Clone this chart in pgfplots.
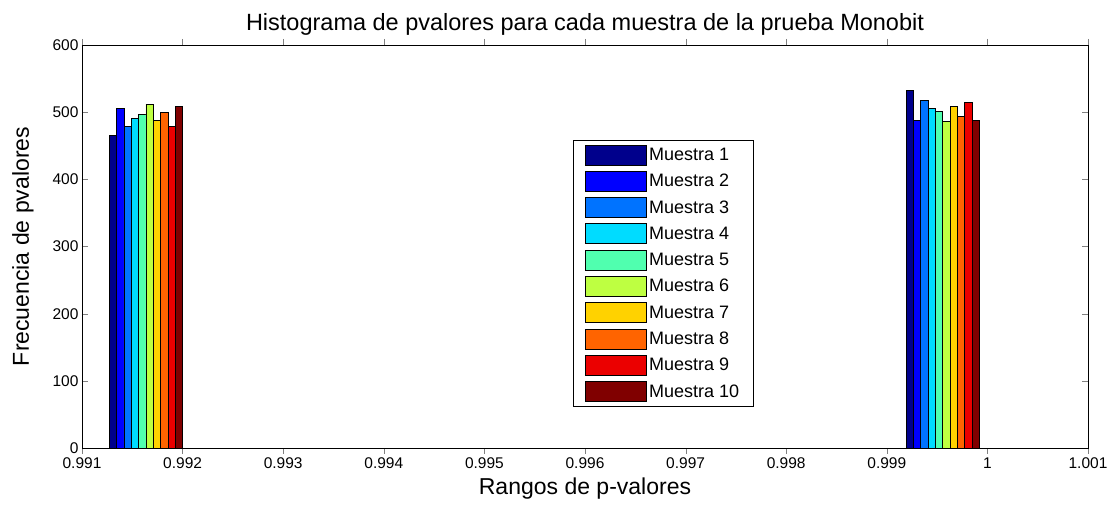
\documentclass[border=0pt]{standalone}
\usepackage{pgfplots}
\pgfplotsset{compat=1.18}
\usepackage{fontspec}
\setmainfont{Liberation Sans}
\definecolor{c1}{RGB}{0,0,140}
\definecolor{c2}{RGB}{0,0,255}
\definecolor{c3}{RGB}{0,115,255}
\definecolor{c4}{RGB}{0,220,255}
\definecolor{c5}{RGB}{80,255,175}
\definecolor{c6}{RGB}{190,255,65}
\definecolor{c7}{RGB}{255,210,0}
\definecolor{c8}{RGB}{255,100,0}
\definecolor{c9}{RGB}{235,0,0}
\definecolor{c10}{RGB}{128,0,0}
\begin{document}
\begin{tikzpicture}
\path[use as bounding box] (-82pt,-58pt) rectangle (1030pt,448pt);
\begin{axis}[
  at={(0pt,0pt)}, anchor=south west,
  scale only axis, width=1006pt, height=403pt,
  xmin=0, xmax=10, ymin=0, ymax=600,
  xtick={0,1,2,3,4,5,6,7,8,9,10},
  xticklabels={0.991,0.992,0.993,0.994,0.995,0.996,0.997,0.998,0.999,1,1.001},
  ytick={0,100,200,300,400,500,600},
  tick align=inside, major tick length=6pt,
  xtick pos=both, ytick pos=both,
  /pgf/number format/assume math mode=true,
  tick label style={font=\fontsize{15.5}{18}\selectfont},
  title={Histograma de pvalores para cada muestra de la prueba Monobit},
  title style={font=\fontsize{23.5}{27}\selectfont, yshift=0pt},
  xlabel={Rangos de p-valores},
  ylabel={Frecuencia de pvalores},
  label style={font=\fontsize{23}{26}\selectfont},
  xlabel style={yshift=-2pt},
  ylabel style={yshift=12pt},
  ybar, bar shift=0pt, bar width=0.073,
  every axis plot/.append style={draw=black, line width=0.8pt},
  legend style={at={(0.488,0.764)}, anchor=north west, draw=black, line width=0.8pt,
    font=\fontsize{18}{21}\selectfont, row sep=5.5pt, inner ysep=4pt, inner xsep=12pt, cells={anchor=west}},
  legend image code/.code={\draw[#1, line width=0.8pt] (0pt,-10pt) rectangle (61pt,10pt);},
]
\addplot[fill=c1] coordinates {(0.3075,465) (8.2275,532)};
\addplot[fill=c2] coordinates {(0.3805,506) (8.3005,488)};
\addplot[fill=c3] coordinates {(0.4535,479) (8.3735,517)};
\addplot[fill=c4] coordinates {(0.5265,491) (8.4465,506)};
\addplot[fill=c5] coordinates {(0.5995,497) (8.5195,501)};
\addplot[fill=c6] coordinates {(0.6725,512) (8.5925,486)};
\addplot[fill=c7] coordinates {(0.7455,488) (8.6655,509)};
\addplot[fill=c8] coordinates {(0.8185,500) (8.7385,494)};
\addplot[fill=c9] coordinates {(0.8915,479) (8.8115,515)};
\addplot[fill=c10] coordinates {(0.9645,509) (8.8845,488)};
\legend{Muestra 1,Muestra 2,Muestra 3,Muestra 4,Muestra 5,Muestra 6,Muestra 7,Muestra 8,Muestra 9,Muestra 10}
\end{axis}
\end{tikzpicture}
\end{document}
